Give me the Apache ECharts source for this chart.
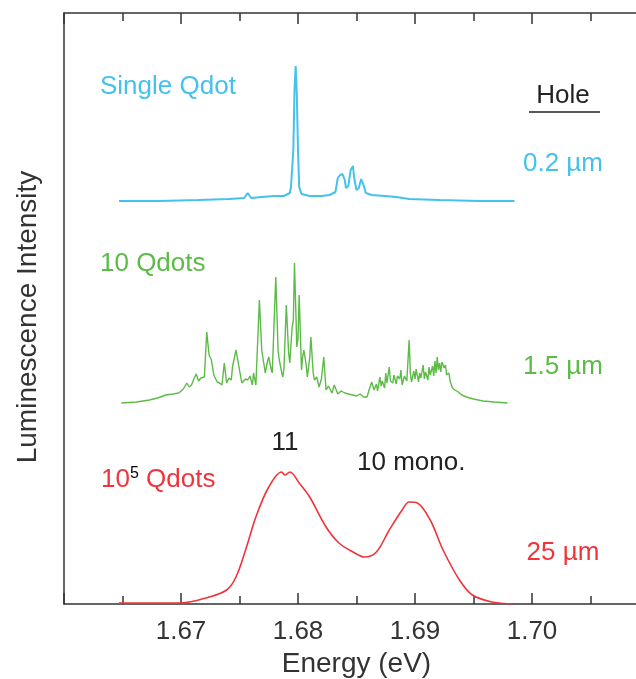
<!DOCTYPE html>
<html>
<head>
<meta charset="utf-8">
<script src="https://cdn.jsdelivr.net/npm/echarts@6/dist/echarts.min.js"></script>
<style>html,body{margin:0;padding:0;background:#fff}#c{width:636px;height:679px}</style>
</head>
<body>
<div id="c"></div>
<script>
// Energy (eV) and intensity (a.u., above each spectrum's own baseline)
const singleE = [1.6647,1.6681,1.6715,1.6741,1.6754,1.6757,1.6760,1.6769,1.6780,1.6788,1.6793,1.6794,1.6796,1.6797,1.6798,1.6799,1.6800,1.6801,1.6803,1.6810,1.6820,1.6827,1.6832,1.6834,1.6836,1.6838,1.6840,1.6841,1.6843,1.6845,1.6847,1.6848,1.6850,1.6852,1.6854,1.6856,1.6858,1.6863,1.6874,1.6884,1.6895,1.6921,1.6955,1.6985];
const singleI = [0,0,1,2,3,8,3,4,5,5,8,14,51,111,135,106,51,14,7,5,5,6,9,23,26,27,21,13,15,31,35,23,11,13,22,16,8,6,5,4,2,1,0,0];

const tenE = [1.6649,1.6662,1.6673,1.6680,1.6687,1.6693,1.6698,1.6702,1.6705,1.6707,1.6709,1.6711,1.6713,1.6715,1.6717,1.6720,1.6722,1.6724,1.6726,1.6728,1.6731,1.6733,1.6735,1.6737,1.6739,1.6741,1.6743,1.6744,1.6747,1.6749,1.6750,1.6752,1.6755,1.6757,1.6759,1.6761,1.6762,1.6764,1.6767,1.6769,1.6771,1.6772,1.6774,1.6775,1.6777,1.6778,1.6781,1.6783,1.6784,1.6786,1.6787,1.6788,1.6790,1.6792,1.6793,1.6795,1.6796,1.6797,1.6799,1.6800,1.6801,1.6803,1.6804,1.6805,1.6807,1.6808,1.6810,1.6811,1.6813,1.6814,1.6816,1.6818,1.6820,1.6822,1.6824,1.6826,1.6829,1.6831,1.6834,1.6837,1.6840,1.6843,1.6847,1.6850,1.6853,1.6856,1.6859,1.6861,1.6863,1.6865,1.6867,1.6868,1.6870,1.6871,1.6872,1.6874,1.6875,1.6876,1.6878,1.6879,1.6881,1.6882,1.6884,1.6885,1.6887,1.6888,1.6889,1.6891,1.6893,1.6895,1.6896,1.6897,1.6899,1.6900,1.6901,1.6903,1.6904,1.6905,1.6907,1.6908,1.6909,1.6911,1.6912,1.6913,1.6915,1.6916,1.6917,1.6918,1.6919,1.6920,1.6921,1.6922,1.6923,1.6925,1.6926,1.6927,1.6929,1.6930,1.6932,1.6934,1.6937,1.6940,1.6944,1.6950,1.6958,1.6968,1.6979];
const tenI = [0,1,3,5,8,9,10,14,20,16,18,24,29,22,25,26,71,48,43,28,21,20,18,40,20,25,23,36,53,40,33,20,24,23,27,18,30,18,103,53,38,30,42,46,34,30,126,52,43,31,26,34,98,50,40,76,82,140,56,64,108,33,46,53,38,26,45,66,30,23,26,16,24,46,13,17,10,18,9,12,10,9,8,7,9,6,6,14,21,13,19,12,26,17,22,15,30,20,36,22,20,28,19,27,24,33,18,27,22,63,30,21,32,24,34,21,30,25,38,24,31,23,36,28,37,27,42,30,46,33,40,31,41,35,38,28,30,22,15,13,11,8,6,4,2,1,0];

const manyE = [1.6647,1.6700,1.6724,1.6739,1.6747,1.6756,1.6764,1.6775,1.6786,1.6789,1.6793,1.6801,1.6810,1.6824,1.6835,1.6847,1.6857,1.6867,1.6878,1.6889,1.6895,1.6902,1.6913,1.6924,1.6938,1.6949,1.6966,1.6984];
const manyI = [1,1,7,14,27,57,87,117,132,129,132,121,107,77,61,52,47,52,74,94,102,101,84,54,24,9,2,0];

// vertical stacking offsets of the three spectra
const offsets = { single: 403, ten: 201, many: 0 };
const xTicks = [1.67, 1.68, 1.69, 1.70];

const chart = echarts.init(document.getElementById('c'));
const FONT = 'Liberation Sans, Arial, sans-serif';
const pair = (E, I, off) => E.map((e, i) => [e, I[i] + off]);
const blue = '#45c1ee', green = '#5cbb47', red = '#f0343c', axisCol = '#333';

chart.setOption({
  animation: false,
  grid: { left: 64, top: 13, width: 585, height: 591, containLabel: false, outerBoundsMode: 'none' },
  xAxis: [{
    type: 'value', min: 1.66, max: 1.71, interval: 0.01, position: 'bottom',
    axisLine: { lineStyle: { color: axisCol, width: 1.5 } },
    axisTick: { inside: true, length: 11, lineStyle: { color: axisCol, width: 1.5 } },
    minorTick: { show: true, splitNumber: 2, length: 8, lineStyle: { color: axisCol, width: 1.5 } },
    splitLine: { show: false },
    axisLabel: { fontFamily: FONT, fontSize: 26, color: '#333', margin: 15,
      formatter: v => xTicks.some(t => Math.abs(t - v) < 1e-6) ? v.toFixed(2) : '' },
    name: 'Energy (eV)', nameLocation: 'middle', nameGap: 46,
    nameTextStyle: { fontFamily: FONT, fontSize: 28, color: '#333' }
  }, {
    type: 'value', min: 1.66, max: 1.71, interval: 0.01, position: 'top',
    axisLine: { lineStyle: { color: axisCol, width: 1.5 } },
    axisTick: { inside: true, length: 11, lineStyle: { color: axisCol, width: 1.5 } },
    minorTick: { show: true, splitNumber: 2, length: 8, lineStyle: { color: axisCol, width: 1.5 } },
    splitLine: { show: false }, axisLabel: { show: false }
  }],
  yAxis: {
    type: 'value', min: 0, max: 591,
    axisLine: { show: true, lineStyle: { color: axisCol, width: 1.5 } },
    axisTick: { show: false }, axisLabel: { show: false }, splitLine: { show: false }
  },
  series: [
    { type: 'line', data: pair(singleE, singleI, offsets.single), showSymbol: false,
      lineStyle: { color: blue, width: 2 } },
    { type: 'line', data: pair(tenE, tenI, offsets.ten), showSymbol: false,
      lineStyle: { color: green, width: 1.4 } },
    { type: 'line', data: pair(manyE, manyI, offsets.many), showSymbol: false, smooth: 0.35,
      lineStyle: { color: red, width: 1.6 } }
  ],
  graphic: [
    { type: 'text', x: 28, y: 317, rotation: Math.PI / 2,
      style: { text: 'Luminescence Intensity', font: '28px ' + FONT, fill: '#333', align: 'center', verticalAlign: 'middle' } },
    { type: 'text', x: 100, y: 87, style: { text: 'Single Qdot', font: '26px ' + FONT, fill: blue, verticalAlign: 'middle' } },
    { type: 'text', x: 100, y: 264, style: { text: '10 Qdots', font: '26px ' + FONT, fill: green, verticalAlign: 'middle' } },
    { type: 'text', x: 101, y: 480, style: {
        text: '{a|10}{s|5}{a| Qdots}', verticalAlign: 'middle',
        rich: { a: { font: '26px ' + FONT, fill: red, color: red }, s: { font: '16px ' + FONT, color: red, verticalAlign: 'top', padding: [0, 0, 12, 0] } } } },
    { type: 'text', x: 285, y: 443, style: { text: '11', font: '26px ' + FONT, fill: '#222', align: 'center', verticalAlign: 'middle' } },
    { type: 'text', x: 357, y: 463, style: { text: '10 mono.', font: '26px ' + FONT, fill: '#222', verticalAlign: 'middle' } },
    { type: 'text', x: 563, y: 96, style: { text: 'Hole', font: '26px ' + FONT, fill: '#222', align: 'center', verticalAlign: 'middle' } },
    { type: 'line', shape: { x1: 529, y1: 112, x2: 600, y2: 112 }, style: { stroke: '#222', lineWidth: 1.5 } },
    { type: 'text', x: 563, y: 164, style: { text: '0.2 µm', font: '26px ' + FONT, fill: blue, align: 'center', verticalAlign: 'middle' } },
    { type: 'text', x: 563, y: 367, style: { text: '1.5 µm', font: '26px ' + FONT, fill: green, align: 'center', verticalAlign: 'middle' } },
    { type: 'text', x: 563, y: 553, style: { text: '25 µm', font: '26px ' + FONT, fill: red, align: 'center', verticalAlign: 'middle' } }
  ]
});
</script>
</body>
</html>
